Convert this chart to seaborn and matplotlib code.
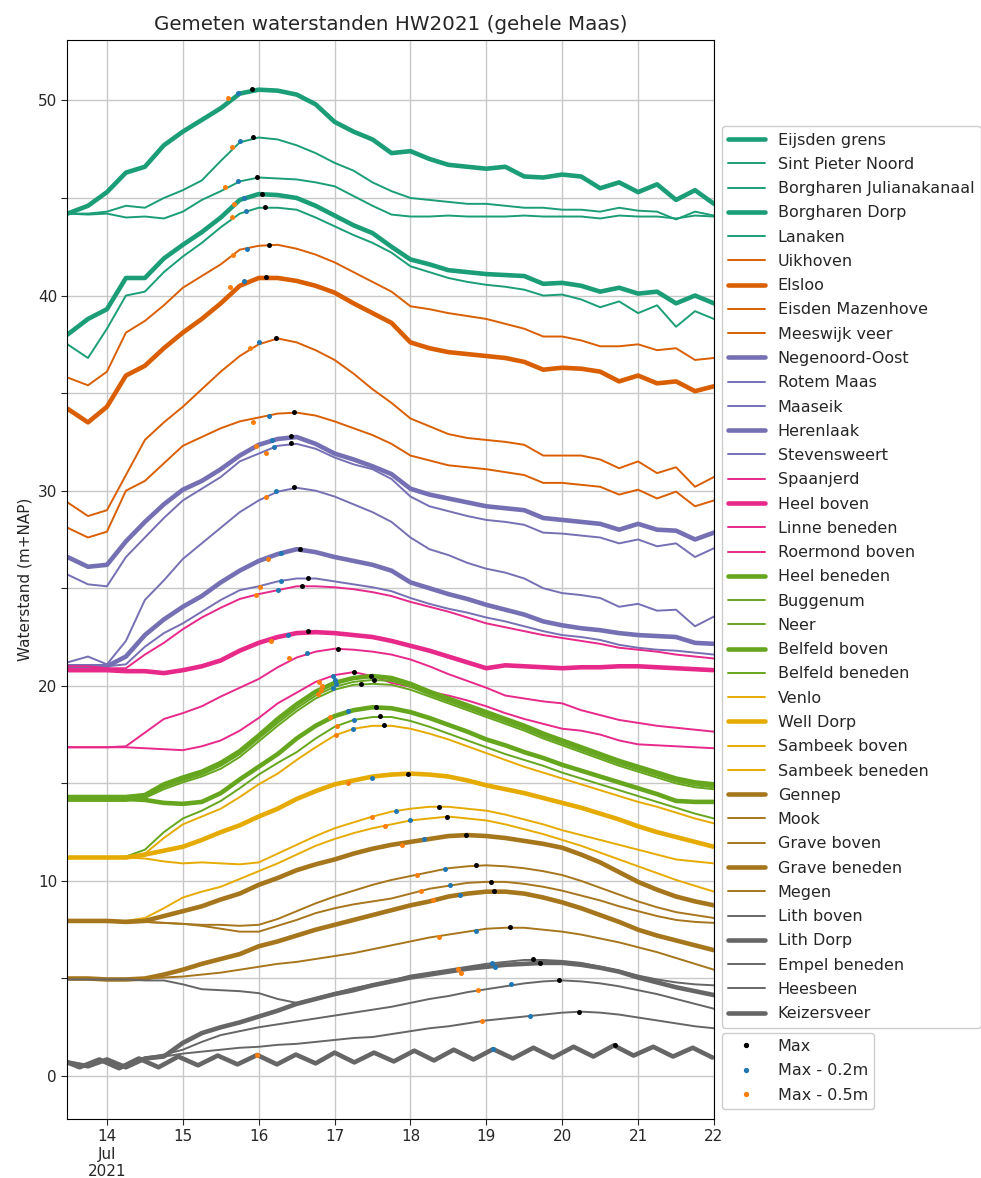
import numpy as np
import pandas as pd
import seaborn as sns
import matplotlib.pyplot as plt
from matplotlib.lines import Line2D

# day-of-July sampling (6-hourly) used for all stations except Keizersveer
days = [13.48, 13.75, 14.0, 14.25, 14.5, 14.75, 15.0, 15.25, 15.5, 15.75, 16.0, 16.25,
        16.5, 16.75, 17.0, 17.25, 17.5, 17.75, 18.0, 18.25, 18.5, 18.75, 19.0, 19.25,
        19.5, 19.75, 20.0, 20.25, 20.5, 20.75, 21.0, 21.25, 21.5, 21.75, 22.0]

# water levels (m+NAP)
eijsden_grens = [44.2, 44.6, 45.3, 46.3, 46.6, 47.7, 48.4, 49.0, 49.6, 50.35, 50.55, 50.5, 50.3, 49.8, 48.9, 48.4, 48.0, 47.3, 47.4, 47.0, 46.7, 46.6, 46.5, 46.6, 46.1, 46.05, 46.2, 46.1, 45.5, 45.8, 45.3, 45.7, 44.9, 45.4, 44.7]
sint_pieter_noord = [44.2, 44.2, 44.3, 44.6, 44.5, 45.0, 45.4, 45.9, 46.9, 47.85, 48.1, 48.0, 47.7, 47.3, 46.8, 46.4, 45.8, 45.35, 45.0, 44.9, 44.8, 44.7, 44.7, 44.6, 44.5, 44.5, 44.4, 44.4, 44.3, 44.5, 44.35, 44.3, 43.9, 44.3, 44.1]
borgharen_julianakanaal = [44.2, 44.15, 44.2, 44.0, 44.05, 43.95, 44.3, 44.9, 45.35, 45.85, 46.05, 46.0, 45.95, 45.8, 45.6, 45.1, 44.6, 44.15, 44.05, 44.05, 44.1, 44.05, 44.05, 44.05, 44.1, 44.05, 44.05, 44.05, 43.95, 44.1, 44.05, 44.05, 43.95, 44.1, 44.05]
borgharen_dorp = [38.0, 38.8, 39.3, 40.9, 40.9, 41.9, 42.6, 43.25, 44.0, 44.9, 45.2, 45.15, 45.0, 44.6, 44.1, 43.6, 43.2, 42.5, 41.85, 41.6, 41.3, 41.2, 41.1, 41.05, 41.0, 40.6, 40.65, 40.5, 40.2, 40.4, 40.1, 40.2, 39.6, 40.0, 39.6]
lanaken = [37.5, 36.8, 38.3, 40.0, 40.2, 41.2, 42.0, 42.7, 43.5, 44.2, 44.5, 44.5, 44.4, 44.0, 43.55, 43.1, 42.7, 42.2, 41.5, 41.2, 40.9, 40.7, 40.55, 40.45, 40.3, 40.0, 40.05, 39.8, 39.4, 39.7, 39.1, 39.5, 38.4, 39.2, 38.8]
uikhoven = [35.8, 35.4, 36.1, 38.1, 38.7, 39.5, 40.4, 41.0, 41.6, 42.35, 42.55, 42.6, 42.4, 42.1, 41.7, 41.2, 40.7, 40.2, 39.45, 39.3, 39.1, 38.95, 38.8, 38.55, 38.3, 37.9, 37.9, 37.7, 37.4, 37.4, 37.5, 37.2, 37.3, 36.7, 36.8]
elsloo = [34.2, 33.5, 34.3, 35.9, 36.4, 37.3, 38.1, 38.8, 39.6, 40.5, 40.9, 40.9, 40.75, 40.5, 40.15, 39.6, 39.1, 38.6, 37.6, 37.3, 37.1, 37.0, 36.9, 36.8, 36.6, 36.2, 36.3, 36.25, 36.1, 35.6, 35.9, 35.5, 35.6, 35.1, 35.35]
eisden_mazenhove = [29.4, 28.7, 29.0, 30.8, 32.6, 33.5, 34.3, 35.2, 36.1, 36.9, 37.5, 37.8, 37.6, 37.2, 36.7, 36.0, 35.2, 34.5, 33.7, 33.3, 32.9, 32.7, 32.6, 32.5, 32.35, 31.8, 31.8, 31.8, 31.6, 31.15, 31.5, 30.9, 31.2, 30.2, 30.7]
meeswijk_veer = [28.1, 27.6, 27.9, 30.0, 30.5, 31.4, 32.3, 32.75, 33.2, 33.55, 33.75, 33.95, 34.0, 33.85, 33.55, 33.2, 32.85, 32.4, 31.8, 31.55, 31.3, 31.2, 31.1, 30.95, 30.8, 30.4, 30.4, 30.3, 30.2, 29.8, 30.05, 29.6, 29.95, 29.2, 29.5]
negenoord_oost = [26.6, 26.1, 26.2, 27.4, 28.4, 29.3, 30.05, 30.5, 31.1, 31.8, 32.35, 32.65, 32.75, 32.4, 31.9, 31.6, 31.25, 30.85, 30.1, 29.8, 29.6, 29.4, 29.2, 29.1, 29.0, 28.6, 28.5, 28.4, 28.3, 28.0, 28.3, 28.0, 27.95, 27.5, 27.85]
rotem_maas = [25.7, 25.2, 25.1, 26.6, 27.6, 28.6, 29.5, 30.1, 30.7, 31.5, 31.9, 32.3, 32.4, 32.15, 31.7, 31.35, 31.1, 30.6, 29.7, 29.2, 28.95, 28.7, 28.5, 28.4, 28.25, 27.85, 27.8, 27.7, 27.6, 27.3, 27.5, 27.15, 27.3, 26.6, 27.05]
maaseik = [21.2, 21.5, 21.1, 22.3, 24.4, 25.4, 26.5, 27.3, 28.1, 28.9, 29.5, 29.95, 30.15, 30.0, 29.7, 29.3, 28.9, 28.4, 27.6, 27.0, 26.7, 26.3, 26.0, 25.8, 25.5, 25.0, 24.75, 24.65, 24.5, 24.05, 24.2, 23.85, 23.9, 23.05, 23.55]
herenlaak = [21.0, 21.0, 21.0, 21.5, 22.6, 23.4, 24.05, 24.6, 25.3, 25.9, 26.4, 26.75, 27.0, 26.85, 26.6, 26.4, 26.2, 25.9, 25.3, 25.0, 24.7, 24.45, 24.15, 23.9, 23.65, 23.3, 23.1, 22.95, 22.85, 22.7, 22.6, 22.55, 22.5, 22.2, 22.15]
stevensweert = [21.0, 21.0, 21.0, 21.1, 22.0, 22.7, 23.2, 23.8, 24.4, 24.9, 25.1, 25.35, 25.5, 25.5, 25.35, 25.2, 25.05, 24.85, 24.5, 24.2, 23.95, 23.75, 23.5, 23.3, 23.05, 22.8, 22.6, 22.5, 22.35, 22.1, 21.95, 21.85, 21.8, 21.7, 21.6]
spaanjerd = [21.0, 21.0, 20.9, 20.9, 21.6, 22.2, 22.9, 23.5, 24.0, 24.45, 24.7, 24.9, 25.1, 25.1, 25.05, 24.95, 24.8, 24.6, 24.3, 24.05, 23.8, 23.5, 23.2, 23.0, 22.8, 22.6, 22.45, 22.3, 22.15, 21.95, 21.85, 21.75, 21.6, 21.5, 21.4]
heel_boven = [20.8, 20.8, 20.8, 20.75, 20.75, 20.65, 20.8, 21.0, 21.3, 21.8, 22.2, 22.5, 22.7, 22.75, 22.7, 22.6, 22.5, 22.3, 22.05, 21.8, 21.5, 21.2, 20.9, 21.05, 21.0, 20.95, 20.9, 20.95, 20.95, 21.0, 21.0, 20.95, 20.9, 20.85, 20.8]
linne_beneden = [16.85, 16.85, 16.85, 16.9, 17.6, 18.3, 18.6, 18.95, 19.45, 19.9, 20.35, 20.95, 21.45, 21.75, 21.9, 21.85, 21.75, 21.6, 21.35, 21.0, 20.6, 20.25, 19.9, 19.5, 19.35, 19.2, 19.1, 18.75, 18.5, 18.25, 18.1, 17.95, 17.85, 17.75, 17.65]
roermond_boven = [16.85, 16.85, 16.85, 16.85, 16.8, 16.75, 16.7, 16.9, 17.2, 17.7, 18.35, 19.1, 19.65, 20.2, 20.55, 20.7, 20.5, 20.15, 19.95, 19.7, 19.5, 19.25, 18.95, 18.6, 18.3, 18.05, 17.8, 17.7, 17.5, 17.2, 17.0, 16.95, 16.9, 16.85, 16.8]
heel_beneden = [14.3, 14.3, 14.3, 14.3, 14.4, 14.95, 15.3, 15.6, 16.05, 16.65, 17.45, 18.3, 19.05, 19.7, 20.15, 20.4, 20.5, 20.4, 20.1, 19.7, 19.35, 19.0, 18.65, 18.3, 17.95, 17.55, 17.2, 16.85, 16.5, 16.15, 15.85, 15.55, 15.25, 15.05, 14.95]
buggenum = [14.15, 14.15, 14.15, 14.15, 14.3, 14.8, 15.15, 15.45, 15.9, 16.5, 17.3, 18.1, 18.85, 19.5, 19.95, 20.2, 20.3, 20.25, 19.95, 19.55, 19.2, 18.85, 18.5, 18.15, 17.8, 17.4, 17.05, 16.7, 16.35, 16.0, 15.7, 15.4, 15.1, 14.9, 14.8]
neer = [14.1, 14.1, 14.1, 14.1, 14.25, 14.7, 15.05, 15.35, 15.75, 16.35, 17.15, 17.95, 18.7, 19.35, 19.8, 20.05, 20.1, 20.05, 19.8, 19.45, 19.1, 18.75, 18.4, 18.05, 17.7, 17.3, 16.95, 16.6, 16.25, 15.9, 15.6, 15.3, 15.0, 14.8, 14.7]
belfeld_boven = [14.25, 14.2, 14.2, 14.2, 14.15, 14.0, 13.95, 14.05, 14.5, 15.2, 15.85, 16.5, 17.3, 17.95, 18.45, 18.75, 18.9, 18.85, 18.65, 18.35, 18.0, 17.65, 17.25, 16.95, 16.6, 16.3, 15.95, 15.65, 15.35, 15.05, 14.75, 14.45, 14.1, 14.05, 14.05]
belfeld_beneden = [11.2, 11.2, 11.2, 11.25, 11.6, 12.5, 13.2, 13.6, 14.1, 14.75, 15.45, 16.05, 16.6, 17.3, 17.9, 18.25, 18.4, 18.4, 18.2, 17.9, 17.55, 17.2, 16.85, 16.5, 16.2, 15.9, 15.55, 15.25, 14.95, 14.65, 14.35, 14.05, 13.75, 13.45, 13.2]
venlo = [11.2, 11.2, 11.2, 11.2, 11.4, 12.2, 12.9, 13.3, 13.7, 14.3, 14.95, 15.5, 16.2, 16.85, 17.45, 17.8, 17.95, 17.95, 17.8, 17.55, 17.25, 16.9, 16.55, 16.2, 15.85, 15.55, 15.25, 14.95, 14.65, 14.35, 14.05, 13.8, 13.5, 13.2, 12.95]
well_dorp = [11.2, 11.2, 11.2, 11.2, 11.35, 11.55, 11.75, 12.1, 12.5, 12.85, 13.3, 13.7, 14.2, 14.6, 14.95, 15.15, 15.35, 15.45, 15.5, 15.45, 15.35, 15.15, 14.9, 14.7, 14.5, 14.25, 14.0, 13.75, 13.45, 13.15, 12.8, 12.5, 12.25, 12.0, 11.75]
sambeek_boven = [11.2, 11.2, 11.2, 11.2, 11.15, 11.0, 10.9, 10.95, 10.9, 10.85, 10.95, 11.4, 11.85, 12.3, 12.7, 13.0, 13.3, 13.55, 13.7, 13.8, 13.8, 13.7, 13.6, 13.4, 13.15, 12.9, 12.6, 12.35, 12.1, 11.85, 11.6, 11.35, 11.1, 11.0, 10.9]
sambeek_beneden = [7.95, 7.95, 7.95, 7.95, 8.1, 8.6, 9.15, 9.45, 9.7, 10.1, 10.5, 10.9, 11.35, 11.8, 12.15, 12.45, 12.7, 12.9, 13.1, 13.2, 13.3, 13.2, 13.1, 12.9, 12.65, 12.4, 12.1, 11.8, 11.45, 11.1, 10.75, 10.4, 10.05, 9.75, 9.45]
gennep = [7.95, 7.95, 7.95, 7.9, 7.95, 8.2, 8.45, 8.7, 9.05, 9.35, 9.8, 10.15, 10.55, 10.85, 11.1, 11.4, 11.65, 11.85, 12.0, 12.15, 12.3, 12.35, 12.3, 12.2, 12.05, 11.9, 11.7, 11.35, 10.95, 10.45, 9.95, 9.55, 9.2, 8.95, 8.75]
mook = [7.95, 7.95, 7.95, 7.9, 7.9, 7.85, 7.8, 7.75, 7.75, 7.7, 7.75, 8.05, 8.45, 8.85, 9.2, 9.5, 9.8, 10.05, 10.25, 10.45, 10.65, 10.75, 10.8, 10.75, 10.65, 10.5, 10.3, 10.0, 9.65, 9.3, 8.95, 8.65, 8.4, 8.25, 8.1]
grave_boven = [7.95, 7.95, 7.95, 7.9, 7.9, 7.85, 7.8, 7.7, 7.55, 7.4, 7.4, 7.7, 8.0, 8.35, 8.6, 8.8, 8.95, 9.1, 9.35, 9.6, 9.75, 9.9, 9.95, 9.95, 9.85, 9.7, 9.5, 9.25, 9.0, 8.7, 8.45, 8.2, 8.0, 7.9, 7.85]
grave_beneden = [5.0, 5.0, 4.95, 4.95, 5.0, 5.2, 5.45, 5.75, 6.0, 6.25, 6.65, 6.9, 7.2, 7.5, 7.75, 8.0, 8.25, 8.5, 8.75, 8.95, 9.2, 9.35, 9.45, 9.45, 9.35, 9.15, 8.9, 8.6, 8.25, 7.9, 7.5, 7.2, 6.95, 6.7, 6.45]
megen = [5.0, 5.0, 4.95, 4.95, 5.0, 5.05, 5.1, 5.2, 5.3, 5.45, 5.6, 5.75, 5.85, 6.0, 6.15, 6.3, 6.5, 6.7, 6.9, 7.1, 7.25, 7.4, 7.55, 7.6, 7.6, 7.5, 7.4, 7.25, 7.05, 6.85, 6.6, 6.35, 6.05, 5.75, 5.45]
lith_boven = [4.95, 4.95, 4.95, 4.95, 4.9, 4.9, 4.7, 4.45, 4.4, 4.35, 4.25, 3.95, 3.75, 4.0, 4.25, 4.5, 4.7, 4.9, 5.15, 5.3, 5.45, 5.6, 5.75, 5.85, 5.95, 5.95, 5.9, 5.8, 5.6, 5.4, 5.15, 4.95, 4.8, 4.7, 4.65]
lith_dorp = [0.7, 0.5, 0.85, 0.45, 0.9, 1.0, 1.7, 2.2, 2.5, 2.75, 3.05, 3.35, 3.7, 3.95, 4.2, 4.4, 4.65, 4.85, 5.05, 5.2, 5.35, 5.5, 5.6, 5.7, 5.75, 5.8, 5.8, 5.7, 5.55, 5.35, 5.05, 4.8, 4.55, 4.35, 4.15]
empel_beneden = [0.75, 0.55, 0.8, 0.5, 0.95, 1.1, 1.35, 1.75, 2.1, 2.3, 2.5, 2.65, 2.8, 2.95, 3.1, 3.25, 3.4, 3.55, 3.75, 3.95, 4.1, 4.3, 4.45, 4.6, 4.75, 4.85, 4.9, 4.85, 4.75, 4.6, 4.4, 4.2, 3.95, 3.7, 3.45]
heesbeen = [0.7, 0.5, 0.85, 0.5, 0.9, 1.0, 1.15, 1.25, 1.35, 1.45, 1.5, 1.6, 1.65, 1.75, 1.85, 1.95, 2.0, 2.15, 2.3, 2.45, 2.55, 2.7, 2.85, 2.95, 3.05, 3.15, 3.25, 3.3, 3.25, 3.15, 3.0, 2.85, 2.7, 2.55, 2.45]

# Keizersveer is tidal: high and low waters
keizersveer_days = [13.48, 13.64, 13.9, 14.16, 14.42, 14.68, 14.94, 15.2, 15.46, 15.72, 15.98, 16.24,
                    16.49, 16.75, 17.0, 17.26, 17.52, 17.78, 18.05, 18.31, 18.57, 18.83, 19.09, 19.35,
                    19.62, 19.88, 20.15, 20.41, 20.68, 20.94, 21.2, 21.46, 21.72, 21.98]
keizersveer = [0.7, 0.45, 0.85, 0.4, 0.9, 0.45, 1.0, 0.55, 1.05, 0.6, 1.08, 0.6, 1.1, 0.65, 1.2, 0.7, 1.2,
               0.75, 1.3, 0.8, 1.35, 0.85, 1.38, 0.9, 1.45, 0.95, 1.5, 1.0, 1.57, 1.05, 1.5, 1.0, 1.45, 0.95]

stations = ['Eijsden grens', 'Sint Pieter Noord', 'Borgharen Julianakanaal', 'Borgharen Dorp', 'Lanaken',
            'Uikhoven', 'Elsloo', 'Eisden Mazenhove', 'Meeswijk veer',
            'Negenoord-Oost', 'Rotem Maas', 'Maaseik', 'Herenlaak', 'Stevensweert',
            'Spaanjerd', 'Heel boven', 'Linne beneden', 'Roermond boven',
            'Heel beneden', 'Buggenum', 'Neer', 'Belfeld boven', 'Belfeld beneden',
            'Venlo', 'Well Dorp', 'Sambeek boven', 'Sambeek beneden',
            'Gennep', 'Mook', 'Grave boven', 'Grave beneden', 'Megen',
            'Lith boven', 'Lith Dorp', 'Empel beneden', 'Heesbeen', 'Keizersveer']
group = [0] * 5 + [1] * 4 + [2] * 5 + [3] * 4 + [4] * 5 + [5] * 4 + [6] * 5 + [7] * 5
thick = ['Eijsden grens', 'Borgharen Dorp', 'Elsloo', 'Negenoord-Oost', 'Herenlaak', 'Heel boven',
         'Heel beneden', 'Belfeld boven', 'Well Dorp', 'Gennep', 'Grave beneden', 'Lith Dorp', 'Keizersveer']

# peak (Max) and the moments the rising limb was 0.2 m and 0.5 m below it
t_max = [15.91, 15.92, 15.98, 16.05, 16.08, 16.13, 16.10, 16.23, 16.47, 16.42, 16.42, 16.46, 16.54,
         16.65, 16.57, 16.65, 17.04, 17.25, 17.48, 17.52, 17.35, 17.54, 17.60, 17.65, 17.97, 18.37,
         18.48, 18.73, 18.87, 19.06, 19.10, 19.31, 19.62, 19.71, 19.96, 20.22, 20.70]
h_max = [50.6, 48.1, 46.07, 45.2, 44.55, 42.6, 40.95, 37.8, 34.03, 32.8, 32.45, 30.17, 27.0,
         25.55, 25.13, 22.8, 21.9, 20.7, 20.5, 20.3, 20.1, 18.9, 18.45, 18.0, 15.5, 13.8,
         13.3, 12.36, 10.8, 9.97, 9.5, 7.64, 5.98, 5.8, 4.9, 3.3, 1.57]
t_min02 = [15.73, 15.76, 15.73, 15.80, 15.83, 15.84, 15.80, 16.01, 16.14, 16.18, 16.20, 16.23, 16.30,
           16.30, 16.26, 16.39, 16.63, 16.98, 17.00, 17.02, 16.98, 17.18, 17.25, 17.24, 17.49, 17.81,
           18.00, 18.18, 18.45, 18.52, 18.65, 18.86, 19.08, 19.12, 19.33, 19.58, 19.09]
t_min05 = [15.60, 15.65, 15.55, 15.68, 15.65, 15.66, 15.62, 15.89, 15.92, 15.97, 16.09, 16.09, 16.12,
           16.02, 15.97, 16.16, 16.40, 16.80, 16.84, 16.82, 16.78, 16.94, 17.03, 17.02, 17.18, 17.49,
           17.67, 17.89, 18.08, 18.14, 18.30, 18.38, 18.62, 18.66, 18.89, 18.94, 15.98]

series = [eijsden_grens, sint_pieter_noord, borgharen_julianakanaal, borgharen_dorp, lanaken,
          uikhoven, elsloo, eisden_mazenhove, meeswijk_veer,
          negenoord_oost, rotem_maas, maaseik, herenlaak, stevensweert,
          spaanjerd, heel_boven, linne_beneden, roermond_boven,
          heel_beneden, buggenum, neer, belfeld_boven, belfeld_beneden,
          venlo, well_dorp, sambeek_boven, sambeek_beneden,
          gennep, mook, grave_boven, grave_beneden, megen,
          lith_boven, lith_dorp, empel_beneden, heesbeen, keizersveer]


def to_time(d):
    return pd.Timestamp('2021-07-01') + pd.to_timedelta(np.asarray(d, dtype=float) - 1, unit='D')


sns.set_style('ticks')
plt.rcParams['font.family'] = ['DejaVu Sans']
plt.rcParams['font.size'] = 11
palette = sns.color_palette('Dark2', 8)

fig = plt.figure(figsize=(9.81, 11.78), dpi=100)
ax = fig.add_axes([0.0688, 0.0501, 0.659, 0.916])

handles = []
for name, vals, g in zip(stations, series, group):
    x = to_time(keizersveer_days if name == 'Keizersveer' else days)
    lw = 3.3 if name in thick else 1.4
    sns.lineplot(x=x, y=vals, ax=ax, color=palette[g], linewidth=lw)
    handles.append(Line2D([], [], color=palette[g], linewidth=lw))

h_max = np.array(h_max)
sns.scatterplot(x=to_time(t_max), y=h_max, ax=ax, color='black', s=13, linewidth=0, zorder=5)
sns.scatterplot(x=to_time(t_min02), y=h_max - 0.2, ax=ax, color='tab:blue', s=13, linewidth=0, zorder=5)
sns.scatterplot(x=to_time(t_min05), y=h_max - 0.5, ax=ax, color='tab:orange', s=13, linewidth=0, zorder=5)

ax.set_xlim(to_time([13.48, 22.0]))
ax.set_ylim(-2.2, 53.1)
ax.set_xticks(to_time(range(14, 23)))
ax.set_xticklabels(['14\nJul\n2021'] + [str(d) for d in range(15, 23)])
yt = list(range(0, 55, 5))
ax.set_yticks(yt)
ax.set_yticklabels([str(v) if v % 10 == 0 else '' for v in yt])
ax.tick_params(labelsize=11, length=4, direction='out')
ax.grid(True, color='#c8c8c8', linewidth=1.0)
ax.set_axisbelow(True)
for sp in ax.spines.values():
    sp.set_color('black')
ax.set_xlabel('')
ax.set_ylabel('Waterstand (m+NAP)', fontsize=11)
ax.set_title('Gemeten waterstanden HW2021 (gehele Maas)', fontsize=14.3, pad=7)

leg_kw = dict(loc='upper left', fontsize=11.5, handlelength=2.3, labelspacing=0.58, frameon=True,
              edgecolor='#cccccc', framealpha=1, borderaxespad=0)
leg1 = ax.legend(handles, stations, bbox_to_anchor=(1.012, 0.92), **leg_kw)
ax.add_artist(leg1)
dots = [Line2D([], [], color=c, marker='o', markersize=2.8, linestyle='none')
        for c in ['black', 'tab:blue', 'tab:orange']]
ax.legend(dots, ['Max', 'Max - 0.2m', 'Max - 0.5m'], bbox_to_anchor=(1.012, 0.08), **leg_kw)

fig.savefig('out.png', dpi=100)
